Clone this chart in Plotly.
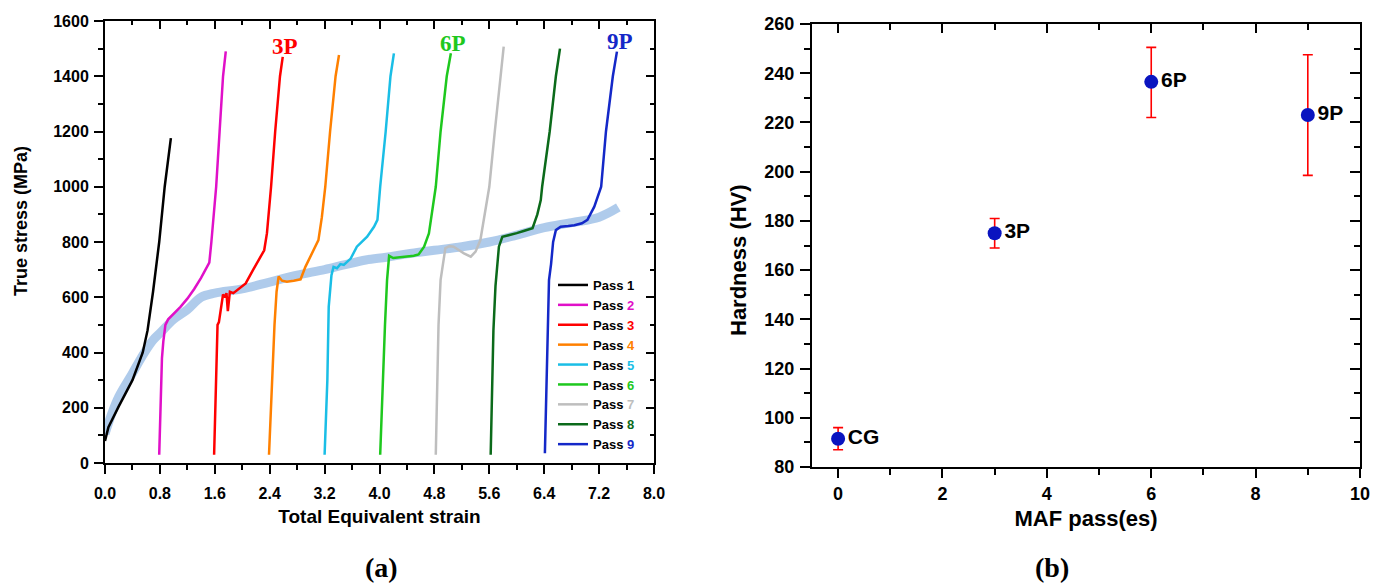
import plotly.graph_objects as go

# ---------------- data: panel (a) ----------------
pass1_strain = [0.00, 0.05, 0.20, 0.40, 0.55, 0.62, 0.70, 0.79, 0.87, 0.96]
pass1_stress = [80, 130, 205, 300, 400, 480, 620, 800, 1000, 1176]

pass2_strain = [0.79, 0.81, 0.83, 0.85, 0.88, 0.92, 1.00, 1.10, 1.20, 1.30, 1.40, 1.48, 1.52, 1.55, 1.62, 1.67, 1.72, 1.76]
pass2_stress = [30, 200, 380, 440, 500, 520, 540, 565, 595, 630, 670, 705, 725, 800, 1000, 1200, 1400, 1490]

pass3_strain = [1.59, 1.61, 1.64, 1.66, 1.68, 1.72, 1.75, 1.77, 1.79, 1.82, 1.87, 1.95, 2.05, 2.16, 2.26, 2.32, 2.36, 2.42, 2.48, 2.55, 2.59]
pass3_stress = [30, 250, 500, 510, 540, 610, 600, 615, 550, 620, 615, 630, 650, 700, 745, 770, 832, 1000, 1200, 1400, 1470]

pass4_strain = [2.39, 2.41, 2.43, 2.47, 2.50, 2.53, 2.58, 2.65, 2.75, 2.85, 2.92, 3.02, 3.11, 3.16, 3.21, 3.28, 3.36, 3.41]
pass4_stress = [30, 150, 300, 500, 620, 675, 660, 656, 660, 665, 710, 760, 807, 890, 1000, 1200, 1400, 1477]

pass5_strain = [3.20, 3.22, 3.24, 3.26, 3.30, 3.33, 3.38, 3.43, 3.48, 3.58, 3.67, 3.82, 3.92, 3.97, 4.01, 4.09, 4.16, 4.21]
pass5_stress = [30, 150, 300, 565, 680, 710, 705, 720, 717, 740, 783, 819, 855, 880, 1000, 1200, 1400, 1483]

pass6_strain = [4.01, 4.04, 4.08, 4.11, 4.13, 4.14, 4.20, 4.30, 4.40, 4.50, 4.57, 4.65, 4.72, 4.79, 4.82, 4.89, 4.98, 5.04]
pass6_stress = [30, 250, 500, 662, 720, 750, 742, 745, 748, 750, 755, 783, 831, 952, 1000, 1200, 1400, 1483]

pass7_strain = [4.82, 4.84, 4.86, 4.89, 4.93, 4.96, 5.02, 5.08, 5.16, 5.23, 5.33, 5.40, 5.47, 5.57, 5.60, 5.68, 5.77, 5.81]
pass7_stress = [30, 250, 500, 662, 740, 778, 785, 783, 770, 759, 747, 765, 807, 952, 1000, 1200, 1400, 1507]

pass8_strain = [5.62, 5.64, 5.66, 5.69, 5.74, 5.79, 5.90, 6.00, 6.10, 6.23, 6.30, 6.35, 6.37, 6.48, 6.57, 6.63]
pass8_stress = [30, 250, 480, 640, 783, 819, 825, 832, 840, 850, 900, 952, 1000, 1200, 1400, 1500]

pass9_strain = [6.41, 6.43, 6.45, 6.47, 6.50, 6.53, 6.57, 6.64, 6.75, 6.84, 6.95, 7.03, 7.13, 7.23, 7.30, 7.40, 7.46]
pass9_stress = [35, 250, 480, 662, 720, 800, 843, 855, 858, 861, 868, 880, 928, 1000, 1200, 1400, 1489]

envelope_strain = [0.0, 0.1, 0.2, 0.4, 0.55, 0.7, 0.8, 1.0, 1.2, 1.4, 1.6, 2.0, 2.4, 2.8, 3.2, 3.5, 3.8, 4.1, 4.4, 4.8, 5.2, 5.6, 6.0, 6.4, 6.8, 7.2, 7.48]
envelope_stress = [105, 180, 240, 325, 390, 445, 470, 520, 555, 600, 615, 630, 655, 680, 700, 718, 735, 745, 757, 770, 783, 800, 825, 852, 870, 890, 925]

pass_labels = ["1", "2", "3", "4", "5", "6", "7", "8", "9"]
pass_colors = ["#000000", "#E010C8", "#FF0000", "#FF8000", "#1ABEE6", "#1EC81E", "#BEBEBE", "#0B6A1A", "#1428C8"]
pass_number_colors = ["#000000", "#E010C8", "#FF0000", "#FF8000", "#1ABEE6", "#1EC81E", "#BEBEBE", "#0B6A1A", "#1428C8"]

curve_tags = ["3P", "6P", "9P"]
curve_tag_strain = [2.62, 5.07, 7.50]
curve_tag_stress = [1508, 1518, 1525]
curve_tag_colors = ["#FF0000", "#1EC81E", "#1428C8"]

# ---------------- data: panel (b) ----------------
maf_pass = [0, 3, 6, 9]
hardness = [91.5, 175.0, 236.5, 223.0]
hardness_err_plus = [4.5, 6.0, 14.0, 24.5]
hardness_err_minus = [4.5, 6.0, 14.5, 24.5]
hardness_labels = ["CG", "3P", "6P", "9P"]

SANS = "Liberation Sans"
SERIF = "Liberation Serif"
W, H = 1374, 583

fig = go.Figure()

fig.add_trace(go.Scatter(x=envelope_strain, y=envelope_stress, mode="lines",
                         line=dict(color="rgba(110,160,218,0.55)", width=9, shape="spline"),
                         showlegend=False, hoverinfo="skip", xaxis="x", yaxis="y"))

all_strain = [pass1_strain, pass2_strain, pass3_strain, pass4_strain, pass5_strain,
              pass6_strain, pass7_strain, pass8_strain, pass9_strain]
all_stress = [pass1_stress, pass2_stress, pass3_stress, pass4_stress, pass5_stress,
              pass6_stress, pass7_stress, pass8_stress, pass9_stress]
for i in range(9):
    name = "<b>Pass <span style='color:%s'>%s</span></b>" % (pass_number_colors[i], pass_labels[i])
    fig.add_trace(go.Scatter(x=all_strain[i], y=all_stress[i], mode="lines", name=name,
                             line=dict(color=pass_colors[i], width=2.5),
                             xaxis="x", yaxis="y"))

fig.add_trace(go.Scatter(x=maf_pass, y=hardness, mode="markers+text",
                         text=hardness_labels, textposition="middle right",
                         textfont=dict(family=SANS, size=21, color="black", weight="bold"),
                         marker=dict(color="#0A14C0", size=14),
                         error_y=dict(type="data", symmetric=False, array=hardness_err_plus,
                                      arrayminus=hardness_err_minus, color="#FF0000",
                                      thickness=1.6, width=5),
                         showlegend=False, xaxis="x2", yaxis="y2"))

# invisible copies so the mirrored (inward-tick) axes get drawn
fig.add_trace(go.Scatter(x=envelope_strain, y=envelope_stress, xaxis="x3", yaxis="y3", mode="lines",
                         line=dict(width=0), opacity=0, showlegend=False, hoverinfo="skip"))
fig.add_trace(go.Scatter(x=maf_pass, y=hardness, xaxis="x4", yaxis="y4", mode="lines",
                         line=dict(width=0), opacity=0, showlegend=False, hoverinfo="skip"))

for t, xs, ys, c in zip(curve_tags, curve_tag_strain, curve_tag_stress, curve_tag_colors):
    fig.add_annotation(x=xs, y=ys, xref="x", yref="y", text="<b>%s</b>" % t, showarrow=False,
                       font=dict(family=SERIF, size=23, color=c))

fig.add_annotation(x=381 / W, y=1 - 567 / H, xref="paper", yref="paper", text="<b>(a)</b>",
                   showarrow=False, xanchor="center", yanchor="middle",
                   font=dict(family=SERIF, size=28, color="black"))
fig.add_annotation(x=1052 / W, y=1 - 567 / H, xref="paper", yref="paper", text="<b>(b)</b>",
                   showarrow=False, xanchor="center", yanchor="middle",
                   font=dict(family=SERIF, size=28, color="black"))

# y-axis titles placed as rotated annotations
fig.add_annotation(x=21 / W, y=1 - 221 / H, xref="paper", yref="paper", text="<b>True stress (MPa)</b>",
                   textangle=-90, showarrow=False, xanchor="center", yanchor="middle",
                   font=dict(family=SANS, size=18, color="black"))
fig.add_annotation(x=738 / W, y=1 - 260 / H, xref="paper", yref="paper", text="<b>Hardness (HV)</b>",
                   textangle=-90, showarrow=False, xanchor="center", yanchor="middle",
                   font=dict(family=SANS, size=22, color="black"))

dom_ax = [105 / W, 654 / W]
dom_ay = [1 - 463 / H, 1 - 21 / H]
dom_bx = [812 / W, 1360 / W]
dom_by = [1 - 467 / H, 1 - 24 / H]

tickfont_a = dict(family=SANS, size=16, color="black", weight="bold")
tickfont_b = dict(family=SANS, size=18, color="black", weight="bold")

common = dict(showgrid=False, zeroline=False, showline=True, linecolor="black", linewidth=2,
              ticks="outside", tickcolor="black", tickwidth=2, mirror=True, automargin=False)
overlay = dict(showticklabels=False, showgrid=False, zeroline=False, showline=False,
               ticks="inside", tickwidth=2, tickcolor="black", automargin=False)

fig.update_layout(
    width=W, height=H, margin=dict(l=0, r=0, t=0, b=0, autoexpand=False),
    paper_bgcolor="white", plot_bgcolor="white",
    xaxis=dict(domain=dom_ax, anchor="y", range=[0, 8.0], tick0=0, dtick=0.8, tickformat=".1f",
               ticklen=9, minor=dict(dtick=0.4, ticklen=5, tickcolor="black", tickwidth=2, ticks="outside"),
               tickfont=tickfont_a, ticklabelstandoff=6,
               title=dict(text="Total Equivalent strain", font=dict(family=SANS, size=19, color="black", weight="bold"),
                          standoff=8), **common),
    yaxis=dict(domain=dom_ay, anchor="x", range=[0, 1600], tick0=0, dtick=200,
               ticklen=9, minor=dict(dtick=100, ticklen=5, tickcolor="black", tickwidth=2, ticks="outside"),
               tickfont=tickfont_a, ticklabelstandoff=2, **common),
    xaxis3=dict(overlaying="x", anchor="y", side="top", range=[0, 8.0], tick0=0, dtick=0.8,
                ticklen=8, minor=dict(dtick=0.4, ticklen=4, tickcolor="black", tickwidth=2, ticks="inside"),
                **overlay),
    yaxis3=dict(overlaying="y", anchor="x", side="right", range=[0, 1600], tick0=0, dtick=200,
                ticklen=8, minor=dict(dtick=100, ticklen=4, tickcolor="black", tickwidth=2, ticks="inside"),
                **overlay),
    xaxis2=dict(domain=dom_bx, anchor="y2", range=[-0.5, 10], tick0=0, dtick=2,
                ticklen=9, minor=dict(dtick=1, ticklen=6, tickcolor="black", tickwidth=2, ticks="outside"),
                tickfont=tickfont_b, ticklabelstandoff=0,
                title=dict(text="MAF pass(es)", font=dict(family=SANS, size=22, color="black", weight="bold"),
                           standoff=8), **common),
    yaxis2=dict(domain=dom_by, anchor="x2", range=[80, 260], tick0=80, dtick=20,
                ticklen=10, minor=dict(dtick=10, ticklen=6, tickcolor="black", tickwidth=2, ticks="outside"),
                tickfont=tickfont_b, ticklabelstandoff=2, **common),
    xaxis4=dict(overlaying="x2", anchor="y2", side="top", range=[-0.5, 10], tick0=0, dtick=2,
                ticklen=9, minor=dict(dtick=1, ticklen=6, tickcolor="black", tickwidth=2, ticks="inside"),
                **overlay),
    yaxis4=dict(overlaying="y2", anchor="x2", side="right", range=[80, 260], tick0=80, dtick=20,
                ticklen=10, minor=dict(dtick=10, ticklen=6, tickcolor="black", tickwidth=2, ticks="inside"),
                **overlay),
    legend=dict(x=553 / W, y=1 - 270 / H, xanchor="left", yanchor="top",
                bgcolor="rgba(0,0,0,0)", font=dict(family=SANS, size=13, color="black"),
                tracegroupgap=0, itemwidth=30),
)

fig.write_html("out.html")
